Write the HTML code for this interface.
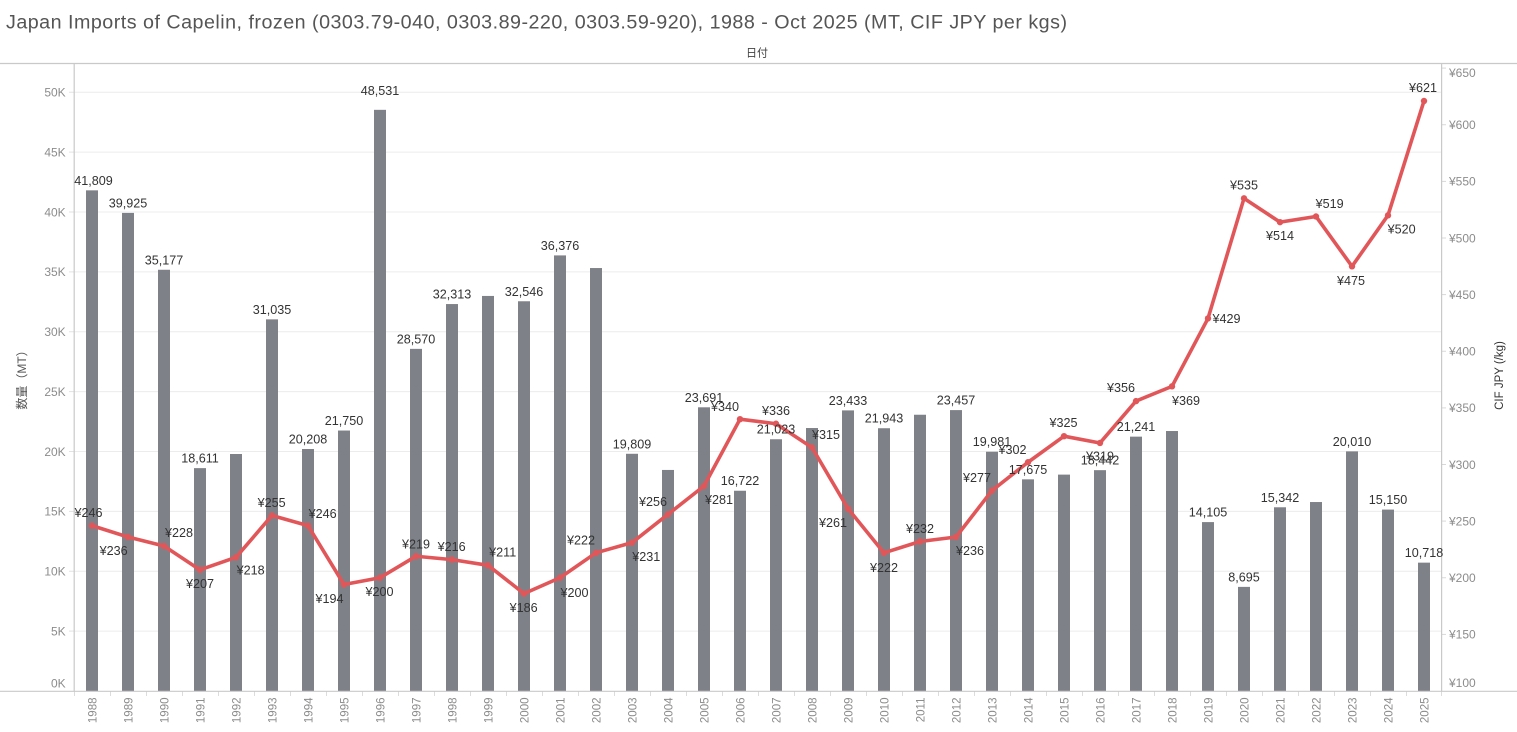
<!DOCTYPE html>
<html><head><meta charset="utf-8"><style>
html,body{margin:0;padding:0;background:#fff;}
svg{display:block;}
text{font-family:"Liberation Sans","Noto Sans CJK JP",sans-serif;}
</style></head><body>
<svg width="1517" height="732" viewBox="0 0 1517 732" xmlns="http://www.w3.org/2000/svg">
<text x="6" y="28.5" font-size="19.7" fill="#555" textLength="1061" lengthAdjust="spacing">Japan Imports of Capelin, frozen (0303.79-040, 0303.89-220, 0303.59-920), 1988 - Oct 2025 (MT, CIF JPY per kgs)</text>
<text x="757" y="56.5" font-size="11" fill="#444" text-anchor="middle" font-family="'Noto Sans CJK JP',sans-serif">日付</text>
<!-- gridlines -->
<g stroke="#ececec" stroke-width="1">
<line x1="74" x2="1441" y1="631.1" y2="631.1"/><line x1="74" x2="1441" y1="571.25" y2="571.25"/><line x1="74" x2="1441" y1="511.4" y2="511.4"/><line x1="74" x2="1441" y1="451.5" y2="451.5"/><line x1="74" x2="1441" y1="391.6" y2="391.6"/><line x1="74" x2="1441" y1="331.75" y2="331.75"/><line x1="74" x2="1441" y1="271.9" y2="271.9"/><line x1="74" x2="1441" y1="212" y2="212"/><line x1="74" x2="1441" y1="152.1" y2="152.1"/><line x1="74" x2="1441" y1="92.25" y2="92.25"/>
</g>
<!-- left ticks -->
<g stroke="#e2e2e2" stroke-width="1">
<line x1="69" x2="74" y1="631.1" y2="631.1"/><line x1="69" x2="74" y1="571.25" y2="571.25"/><line x1="69" x2="74" y1="511.4" y2="511.4"/><line x1="69" x2="74" y1="451.5" y2="451.5"/><line x1="69" x2="74" y1="391.6" y2="391.6"/><line x1="69" x2="74" y1="331.75" y2="331.75"/><line x1="69" x2="74" y1="271.9" y2="271.9"/><line x1="69" x2="74" y1="212" y2="212"/><line x1="69" x2="74" y1="152.1" y2="152.1"/><line x1="69" x2="74" y1="92.25" y2="92.25"/>
</g>
<!-- right ticks -->
<g stroke="#d8d8d8" stroke-width="1">
<line x1="1441" x2="1446" y1="634.4" y2="634.4"/><line x1="1441" x2="1446" y1="577.75" y2="577.75"/><line x1="1441" x2="1446" y1="521.1" y2="521.1"/><line x1="1441" x2="1446" y1="464.5" y2="464.5"/><line x1="1441" x2="1446" y1="407.9" y2="407.9"/><line x1="1441" x2="1446" y1="351.25" y2="351.25"/><line x1="1441" x2="1446" y1="294.6" y2="294.6"/><line x1="1441" x2="1446" y1="238" y2="238"/><line x1="1441" x2="1446" y1="181.4" y2="181.4"/><line x1="1441" x2="1446" y1="124.75" y2="124.75"/><line x1="1441" x2="1446" y1="68.1" y2="68.1"/>
</g>
<!-- bottom category ticks -->
<g stroke="#dcdcdc" stroke-width="1">
<line x1="74.5" x2="74.5" y1="691" y2="696"/><line x1="110.5" x2="110.5" y1="691" y2="696"/><line x1="146.5" x2="146.5" y1="691" y2="696"/><line x1="182.5" x2="182.5" y1="691" y2="696"/><line x1="218.5" x2="218.5" y1="691" y2="696"/><line x1="254.5" x2="254.5" y1="691" y2="696"/><line x1="290.5" x2="290.5" y1="691" y2="696"/><line x1="326.5" x2="326.5" y1="691" y2="696"/><line x1="362.5" x2="362.5" y1="691" y2="696"/><line x1="398.5" x2="398.5" y1="691" y2="696"/><line x1="434.5" x2="434.5" y1="691" y2="696"/><line x1="470.5" x2="470.5" y1="691" y2="696"/><line x1="506.5" x2="506.5" y1="691" y2="696"/><line x1="542.5" x2="542.5" y1="691" y2="696"/><line x1="578.5" x2="578.5" y1="691" y2="696"/><line x1="614.5" x2="614.5" y1="691" y2="696"/><line x1="650.5" x2="650.5" y1="691" y2="696"/><line x1="686.5" x2="686.5" y1="691" y2="696"/><line x1="722.5" x2="722.5" y1="691" y2="696"/><line x1="758.5" x2="758.5" y1="691" y2="696"/><line x1="794.5" x2="794.5" y1="691" y2="696"/><line x1="830.5" x2="830.5" y1="691" y2="696"/><line x1="866.5" x2="866.5" y1="691" y2="696"/><line x1="902.5" x2="902.5" y1="691" y2="696"/><line x1="938.5" x2="938.5" y1="691" y2="696"/><line x1="974.5" x2="974.5" y1="691" y2="696"/><line x1="1010.5" x2="1010.5" y1="691" y2="696"/><line x1="1046.5" x2="1046.5" y1="691" y2="696"/><line x1="1082.5" x2="1082.5" y1="691" y2="696"/><line x1="1118.5" x2="1118.5" y1="691" y2="696"/><line x1="1154.5" x2="1154.5" y1="691" y2="696"/><line x1="1190.5" x2="1190.5" y1="691" y2="696"/><line x1="1226.5" x2="1226.5" y1="691" y2="696"/><line x1="1262.5" x2="1262.5" y1="691" y2="696"/><line x1="1298.5" x2="1298.5" y1="691" y2="696"/><line x1="1334.5" x2="1334.5" y1="691" y2="696"/><line x1="1370.5" x2="1370.5" y1="691" y2="696"/><line x1="1406.5" x2="1406.5" y1="691" y2="696"/><line x1="1441.5" x2="1441.5" y1="691" y2="696"/>
</g>
<!-- bars -->
<g fill="#7e8188">
<rect x="86" y="190.34" width="12" height="500.66"/>
<rect x="122" y="212.9" width="12" height="478.1"/>
<rect x="158" y="269.76" width="12" height="421.24"/>
<rect x="194" y="468.13" width="12" height="222.87"/>
<rect x="230" y="454" width="12" height="237"/>
<rect x="266" y="319.36" width="12" height="371.64"/>
<rect x="302" y="449" width="12" height="242"/>
<rect x="338" y="430.54" width="12" height="260.46"/>
<rect x="374" y="109.84" width="12" height="581.16"/>
<rect x="410" y="348.87" width="12" height="342.13"/>
<rect x="446" y="304.05" width="12" height="386.95"/>
<rect x="482" y="295.94" width="12" height="395.06"/>
<rect x="518" y="301.26" width="12" height="389.74"/>
<rect x="554" y="255.4" width="12" height="435.6"/>
<rect x="590" y="268.04" width="12" height="422.96"/>
<rect x="626" y="453.79" width="12" height="237.21"/>
<rect x="662" y="469.94" width="12" height="221.06"/>
<rect x="698" y="407.3" width="12" height="283.7"/>
<rect x="734" y="490.75" width="12" height="200.25"/>
<rect x="770" y="439.25" width="12" height="251.75"/>
<rect x="806" y="428.03" width="12" height="262.97"/>
<rect x="842" y="410.39" width="12" height="280.61"/>
<rect x="878" y="428.23" width="12" height="262.77"/>
<rect x="914" y="414.74" width="12" height="276.26"/>
<rect x="950" y="410.1" width="12" height="280.9"/>
<rect x="986" y="451.73" width="12" height="239.27"/>
<rect x="1022" y="479.34" width="12" height="211.66"/>
<rect x="1058" y="474.61" width="12" height="216.39"/>
<rect x="1094" y="470.16" width="12" height="220.84"/>
<rect x="1130" y="436.64" width="12" height="254.36"/>
<rect x="1166" y="431.02" width="12" height="259.98"/>
<rect x="1202" y="522.09" width="12" height="168.91"/>
<rect x="1238" y="586.88" width="12" height="104.12"/>
<rect x="1274" y="507.28" width="12" height="183.72"/>
<rect x="1310" y="502.03" width="12" height="188.97"/>
<rect x="1346" y="451.38" width="12" height="239.62"/>
<rect x="1382" y="509.58" width="12" height="181.42"/>
<rect x="1418" y="562.65" width="12" height="128.35"/>
</g>
<!-- axis lines -->
<g stroke="#c9c9c9" stroke-width="1.2">
<line x1="0" x2="1517" y1="63.5" y2="63.5"/>
<line x1="0" x2="1517" y1="691.3" y2="691.3"/>
<line x1="74.2" x2="74.2" y1="63.5" y2="691.3"/>
<line x1="1441.6" x2="1441.6" y1="63.5" y2="691.3"/>
</g>
<!-- line series -->
<polyline fill="none" stroke="#e15759" stroke-width="3.6" stroke-linejoin="round" stroke-linecap="round" points="92,525.65 128,536.98 164,546.04 200,569.82 236,557.36 272,515.46 308,525.65 344,584.54 380,577.75 416,556.23 452,559.63 488,565.29 524,593.6 560,577.75 596,552.83 632,542.64 668,514.33 704,486.02 740,419.2 776,423.73 812,447.51 848,508.67 884,552.83 920,541.51 956,536.98 992,490.55 1028,462.23 1064,436.19 1100,442.98 1136,401.08 1172,386.36 1208,318.41 1244,198.36 1280,222.14 1316,216.48 1352,266.31 1388,215.35 1424,100.97"/>
<g fill="#e15759">
<circle cx="92" cy="525.65" r="3.2"/><circle cx="128" cy="536.98" r="3.2"/><circle cx="164" cy="546.04" r="3.2"/><circle cx="200" cy="569.82" r="3.2"/><circle cx="236" cy="557.36" r="3.2"/><circle cx="272" cy="515.46" r="3.2"/><circle cx="308" cy="525.65" r="3.2"/><circle cx="344" cy="584.54" r="3.2"/><circle cx="380" cy="577.75" r="3.2"/><circle cx="416" cy="556.23" r="3.2"/><circle cx="452" cy="559.63" r="3.2"/><circle cx="488" cy="565.29" r="3.2"/><circle cx="524" cy="593.6" r="3.2"/><circle cx="560" cy="577.75" r="3.2"/><circle cx="596" cy="552.83" r="3.2"/><circle cx="632" cy="542.64" r="3.2"/><circle cx="668" cy="514.33" r="3.2"/><circle cx="704" cy="486.02" r="3.2"/><circle cx="740" cy="419.2" r="3.2"/><circle cx="776" cy="423.73" r="3.2"/><circle cx="812" cy="447.51" r="3.2"/><circle cx="848" cy="508.67" r="3.2"/><circle cx="884" cy="552.83" r="3.2"/><circle cx="920" cy="541.51" r="3.2"/><circle cx="956" cy="536.98" r="3.2"/><circle cx="992" cy="490.55" r="3.2"/><circle cx="1028" cy="462.23" r="3.2"/><circle cx="1064" cy="436.19" r="3.2"/><circle cx="1100" cy="442.98" r="3.2"/><circle cx="1136" cy="401.08" r="3.2"/><circle cx="1172" cy="386.36" r="3.2"/><circle cx="1208" cy="318.41" r="3.2"/><circle cx="1244" cy="198.36" r="3.2"/><circle cx="1280" cy="222.14" r="3.2"/><circle cx="1316" cy="216.48" r="3.2"/><circle cx="1352" cy="266.31" r="3.2"/><circle cx="1388" cy="215.35" r="3.2"/><circle cx="1424" cy="100.97" r="3.2"/>
</g>
<!-- bar labels -->
<g font-size="12.6" fill="#333" text-anchor="middle">
<text x="93.5" y="184.8">41,809</text>
<text x="128" y="207.4">39,925</text>
<text x="164" y="264.3">35,177</text>
<text x="200" y="462.6">18,611</text>
<text x="272" y="313.9">31,035</text>
<text x="308" y="443.5">20,208</text>
<text x="344" y="425">21,750</text>
<text x="380" y="95">48,531</text>
<text x="416" y="343.4">28,570</text>
<text x="452" y="298.5">32,313</text>
<text x="524" y="295.8">32,546</text>
<text x="560" y="249.9">36,376</text>
<text x="632" y="448.3">19,809</text>
<text x="704" y="401.8">23,691</text>
<text x="740" y="485.2">16,722</text>
<text x="776" y="433.7">21,023</text>
<text x="848" y="404.9">23,433</text>
<text x="884" y="422.7">21,943</text>
<text x="956" y="404.6">23,457</text>
<text x="992" y="446.2">19,981</text>
<text x="1028" y="473.8">17,675</text>
<text x="1100" y="464.7">18,442</text>
<text x="1136" y="431.1">21,241</text>
<text x="1208" y="516.6">14,105</text>
<text x="1244" y="581.4">8,695</text>
<text x="1280" y="501.8">15,342</text>
<text x="1352" y="445.9">20,010</text>
<text x="1388" y="504.1">15,150</text>
<text x="1424" y="557.1">10,718</text>
</g>
<!-- price labels -->
<g font-size="12.6" fill="#333" text-anchor="middle">
<text x="88.5" y="517.2">¥246</text>
<text x="113.7" y="555.2">¥236</text>
<text x="179" y="537.2">¥228</text>
<text x="200" y="587.8">¥207</text>
<text x="250.7" y="574.5">¥218</text>
<text x="271.7" y="507.2">¥255</text>
<text x="322.7" y="517.8">¥246</text>
<text x="329.5" y="602.8">¥194</text>
<text x="379.5" y="595.8">¥200</text>
<text x="416" y="548.5">¥219</text>
<text x="451.7" y="551.2">¥216</text>
<text x="502.7" y="556.5">¥211</text>
<text x="523.7" y="612.2">¥186</text>
<text x="574.5" y="597.2">¥200</text>
<text x="581" y="544.5">¥222</text>
<text x="646.3" y="561.2">¥231</text>
<text x="653" y="506.2">¥256</text>
<text x="719" y="503.8">¥281</text>
<text x="725" y="411.2">¥340</text>
<text x="776" y="415.2">¥336</text>
<text x="826" y="438.8">¥315</text>
<text x="833" y="527.2">¥261</text>
<text x="884" y="571.8">¥222</text>
<text x="920" y="532.8">¥232</text>
<text x="970" y="555.2">¥236</text>
<text x="977" y="482.2">¥277</text>
<text x="1012.5" y="453.8">¥302</text>
<text x="1063.5" y="427.2">¥325</text>
<text x="1100" y="460.5">¥319</text>
<text x="1121" y="392.2">¥356</text>
<text x="1186" y="405.2">¥369</text>
<text x="1226.5" y="322.8">¥429</text>
<text x="1244" y="189.5">¥535</text>
<text x="1280" y="240.2">¥514</text>
<text x="1329.7" y="207.8">¥519</text>
<text x="1351" y="285.2">¥475</text>
<text x="1401.7" y="233.5">¥520</text>
<text x="1423" y="92.2">¥621</text>
</g>
<!-- left axis labels -->
<g font-size="12" fill="#8c8c8c" text-anchor="end">
<text x="65.7" y="687.6">0K</text>
<text x="65.7" y="635.4">5K</text>
<text x="65.7" y="575.5">10K</text>
<text x="65.7" y="515.7">15K</text>
<text x="65.7" y="455.8">20K</text>
<text x="65.7" y="395.9">25K</text>
<text x="65.7" y="336">30K</text>
<text x="65.7" y="276.2">35K</text>
<text x="65.7" y="216.3">40K</text>
<text x="65.7" y="156.4">45K</text>
<text x="65.7" y="96.5">50K</text>
</g>
<!-- right axis labels -->
<g font-size="12" fill="#8c8c8c" text-anchor="start">
<text x="1449" y="686.8">¥100</text>
<text x="1449" y="638.7">¥150</text>
<text x="1449" y="582">¥200</text>
<text x="1449" y="525.4">¥250</text>
<text x="1449" y="468.8">¥300</text>
<text x="1449" y="412.2">¥350</text>
<text x="1449" y="355.5">¥400</text>
<text x="1449" y="298.9">¥450</text>
<text x="1449" y="242.3">¥500</text>
<text x="1449" y="185.7">¥550</text>
<text x="1449" y="129">¥600</text>
<text x="1449" y="77">¥650</text>
</g>
<!-- axis titles -->
<text transform="translate(22,377) rotate(-90)" font-size="12" fill="#555" text-anchor="middle" dominant-baseline="central">数量（MT）</text>
<text transform="translate(1500,375.5) rotate(-90)" font-size="11.5" fill="#333" text-anchor="middle" dominant-baseline="central">CIF JPY (/kg)</text>
<!-- year labels -->
<g font-size="11.5" fill="#8c8c8c" text-anchor="end">
<text transform="translate(96.6,697.5) rotate(-90)">1988</text>
<text transform="translate(132.6,697.5) rotate(-90)">1989</text>
<text transform="translate(168.6,697.5) rotate(-90)">1990</text>
<text transform="translate(204.6,697.5) rotate(-90)">1991</text>
<text transform="translate(240.6,697.5) rotate(-90)">1992</text>
<text transform="translate(276.6,697.5) rotate(-90)">1993</text>
<text transform="translate(312.6,697.5) rotate(-90)">1994</text>
<text transform="translate(348.6,697.5) rotate(-90)">1995</text>
<text transform="translate(384.6,697.5) rotate(-90)">1996</text>
<text transform="translate(420.6,697.5) rotate(-90)">1997</text>
<text transform="translate(456.6,697.5) rotate(-90)">1998</text>
<text transform="translate(492.6,697.5) rotate(-90)">1999</text>
<text transform="translate(528.6,697.5) rotate(-90)">2000</text>
<text transform="translate(564.6,697.5) rotate(-90)">2001</text>
<text transform="translate(600.6,697.5) rotate(-90)">2002</text>
<text transform="translate(636.6,697.5) rotate(-90)">2003</text>
<text transform="translate(672.6,697.5) rotate(-90)">2004</text>
<text transform="translate(708.6,697.5) rotate(-90)">2005</text>
<text transform="translate(744.6,697.5) rotate(-90)">2006</text>
<text transform="translate(780.6,697.5) rotate(-90)">2007</text>
<text transform="translate(816.6,697.5) rotate(-90)">2008</text>
<text transform="translate(852.6,697.5) rotate(-90)">2009</text>
<text transform="translate(888.6,697.5) rotate(-90)">2010</text>
<text transform="translate(924.6,697.5) rotate(-90)">2011</text>
<text transform="translate(960.6,697.5) rotate(-90)">2012</text>
<text transform="translate(996.6,697.5) rotate(-90)">2013</text>
<text transform="translate(1032.6,697.5) rotate(-90)">2014</text>
<text transform="translate(1068.6,697.5) rotate(-90)">2015</text>
<text transform="translate(1104.6,697.5) rotate(-90)">2016</text>
<text transform="translate(1140.6,697.5) rotate(-90)">2017</text>
<text transform="translate(1176.6,697.5) rotate(-90)">2018</text>
<text transform="translate(1212.6,697.5) rotate(-90)">2019</text>
<text transform="translate(1248.6,697.5) rotate(-90)">2020</text>
<text transform="translate(1284.6,697.5) rotate(-90)">2021</text>
<text transform="translate(1320.6,697.5) rotate(-90)">2022</text>
<text transform="translate(1356.6,697.5) rotate(-90)">2023</text>
<text transform="translate(1392.6,697.5) rotate(-90)">2024</text>
<text transform="translate(1428.6,697.5) rotate(-90)">2025</text>
</g>
</svg>
</body></html>
